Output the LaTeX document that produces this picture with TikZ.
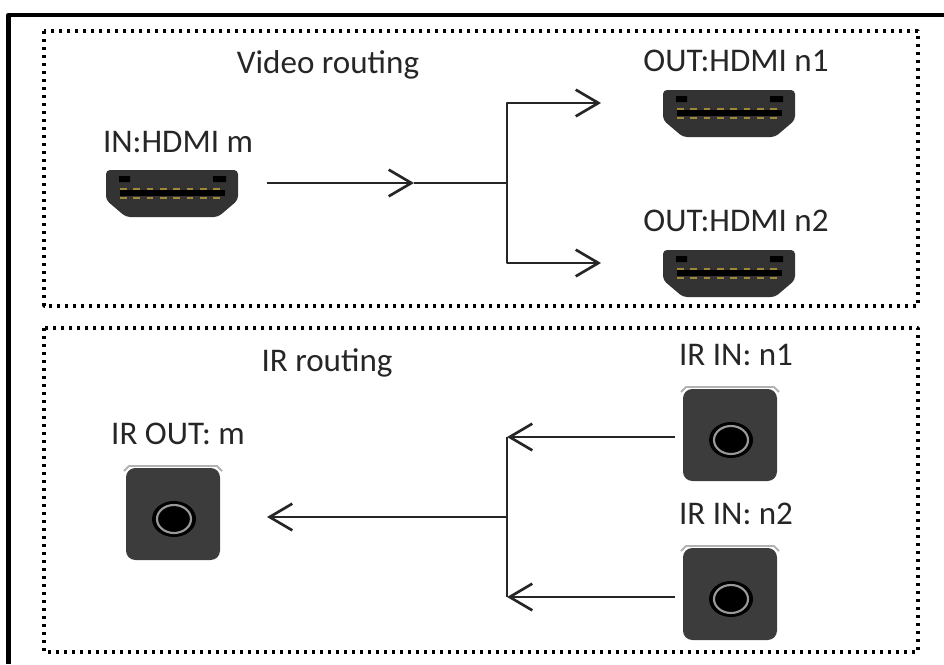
\documentclass[tikz,border=0pt]{standalone}
\usepackage{fontspec}
\setmainfont{Carlito}
\usetikzlibrary{arrows.meta}
\definecolor{portgray}{HTML}{333333}
\definecolor{jackgray}{HTML}{3C3C3C}
\definecolor{pingold}{HTML}{A08A3A}
\tikzset{
	routebox/.style={line width=2.6pt,dash pattern=on 2.6pt off 3.4pt},
	routeline/.style={line width=2pt,draw=black!85},
	portlabel/.style={font=\fontsize{24.8}{24.8}\selectfont,text=black!85,inner sep=0pt},
	hdmiport/.pic={
		\fill[portgray,rounded corners=3pt] (-66,-24)--(66,-24)--(66,6)--(46,23)--(-46,23)--(-66,6)--cycle;
		\fill[black] (-53,-18) rectangle (-42,-12) (41,-18) rectangle (54,-12);
		\fill[black] (-52,-4) rectangle (53,2);
		\draw[pingold,line width=1pt,dash pattern=on 5pt off 5pt] (-52,-5)--(53,-5) (-52,4)--(53,4);
	},
	irport/.pic={
		\draw[black!30,line width=1.4pt] (-49,-43) to[bend left=8] (-44,-48)--(44,-48) to[bend left=8] (49,-43);
		\fill[jackgray,rounded corners=7pt] (-47,-46) rectangle (47,46);
		\fill[black] (1,5) ellipse [x radius=22,y radius=18];
		\draw[black!40,line width=1.6pt,fill=black] (1,5) ellipse [x radius=17,y radius=14];
	}
}
\begin{document}
\begin{tikzpicture}[x=.75pt,y=-.75pt,>={Straight Barb[length=17pt,width=20pt]},line join=round]
	\useasboundingbox (0,0) rectangle (944,664);
	\path 
	(267,183) coordinate (vs)
	(414,183) coordinate (vm)
	(507,183) coordinate (vj)
	(507,103) coordinate (va)
	(507,263) coordinate (vb)
	(601,103) coordinate (n1)
	(601,263) coordinate (n2)
	(675,437) coordinate (ia)
	(675,597) coordinate (ib)
	(507,437) coordinate (ja)
	(507,597) coordinate (jb)
	(507,517) coordinate (ij)
	(267,517) coordinate (io)
	;
	% frame and the two dotted boxes
	\draw[line width=3.2pt] (944,15)--(8.5,15)--(8.5,664);
	\draw[routebox] (44,31) rectangle (918,306);
	\draw[routebox] (44,328) rectangle (918,652);
	% video routing
	\draw[routeline,->] (vs)--(vm);
	\draw[routeline] (vm)--(vj);
	\draw[routeline,->] (vj)--(va)--(n1);
	\draw[routeline,->] (vj)--(vb)--(n2);
	% IR routing
	\draw[routeline,->] (ia)--(ja);
	\draw[routeline,->] (ib)--(jb);
	\draw[routeline] (ja)--(jb);
	\draw[routeline,->] (ij)--(io);
	\foreach \x/\y in {172/194,729/114,729/274}
	\pic at (\x,\y) {hdmiport};
	\foreach \x/\y in {173/514,730/435,730/594}
	\pic at (\x,\y) {irport};
	\foreach \n/\x/\y/\t in {vid/328/65/Video routing,inm/178/142/IN:HDMI m,outa/736/61/OUT:HDMI n1,outb/736/221/OUT:HDMI n2,irr/327/363/IR routing,iro/178/434/IR OUT: m,ira/736/355/IR IN: n1,irb/736/514/IR IN: n2}
	\node[portlabel] (\n) at (\x,\y) {\t};
\end{tikzpicture}
\end{document}
